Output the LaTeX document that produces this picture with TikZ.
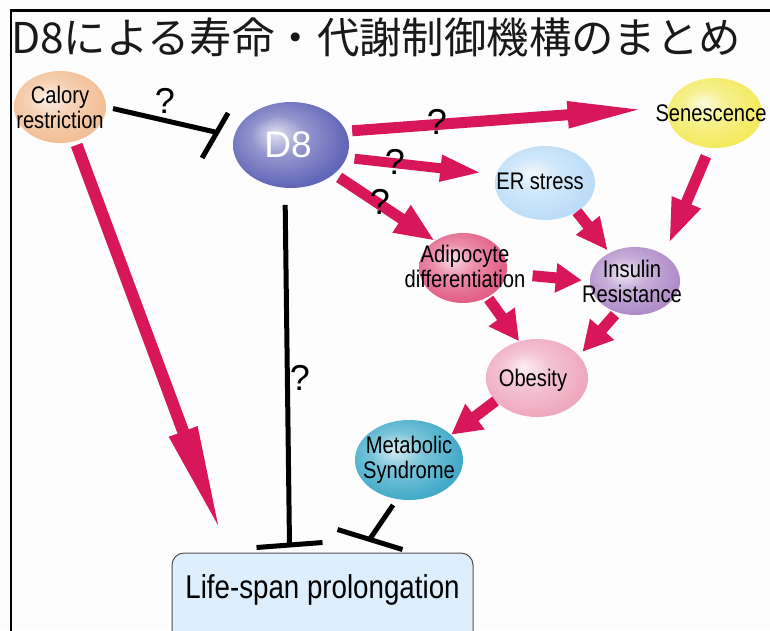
\documentclass[tikz,border=0pt]{standalone}
\usepackage{fontspec}
\setmainfont{Liberation Sans}
\newfontfamily\nar{Liberation Sans}[FakeStretch=0.84]
\newfontfamily\jp{Noto Sans CJK JP}
\usetikzlibrary{arrows.meta,shapes.geometric,calc}
\definecolor{arrred}{HTML}{D7175A}
\definecolor{bgc}{HTML}{FDFDFD}
\definecolor{calc}{HTML}{F2BF96}
\definecolor{d8c}{HTML}{6367B8}
\definecolor{senc}{HTML}{F3EA5E}
\definecolor{erc}{HTML}{BCDDF7}
\definecolor{adic}{HTML}{E25F88}
\definecolor{insc}{HTML}{B08CC8}
\definecolor{obec}{HTML}{EFA9BF}
\definecolor{metc}{HTML}{43ABC9}
\definecolor{lifefill}{HTML}{DDEEFC}
\definecolor{lifeline}{HTML}{505050}
\colorlet{hlc}{white}
\pgfdeclareradialshading[hlc]{softball}{\pgfpoint{-7bp}{7bp}}{color(0bp)=(hlc!20!white); color(12bp)=(hlc!70!white); color(27bp)=(hlc); color(50bp)=(hlc)}
\begin{document}
\begin{tikzpicture}[x=1pt,y=-1pt,
  bub/.style={ellipse, inner sep=0pt, shading=softball, /utils/exec={\colorlet{hlc}{#1}}},
  txt/.style={inner sep=0pt, align=center, font=\nar\fontsize{24}{25}\selectfont, text=black},
  qm/.style={inner sep=0pt, font=\fontsize{36}{36}\selectfont, text=black},
  ra/.style={draw=arrred, fill=arrred},
  inh/.style={draw=black, line width=5pt}]
\useasboundingbox (0,0) rectangle (770,630);
\fill[bgc] (0,0) rectangle (770,630);
\clip (0,0) rectangle (770,630);
\draw[line width=2.5pt, black] (11,640) -- (11,10.5) -- (780,10.5);

\node[anchor=base west, inner sep=0pt, font=\jp\fontsize{42.4}{42.4}\selectfont, text=black!90] (title) at (11,53) {D8による寿命・代謝制御機構のまとめ};

\node[bub=calc, minimum width=92pt, minimum height=72pt,
  label={[txt]center:Calory\\restriction}] (cal) at (60,107) {};
\node[bub=d8c, minimum width=116pt, minimum height=86pt,
  label={[inner sep=0pt, font=\fontsize{37}{37}\selectfont, text=white, xshift=-3pt]center:D8}] (d8) at (291,145) {};
\node[bub=senc, minimum width=94pt, minimum height=70pt,
  label={[txt, xshift=-4pt]center:Senescence}] (sen) at (715,113) {};
\node[bub=erc, minimum width=100pt, minimum height=74pt,
  label={[txt, xshift=-5pt, yshift=2pt]center:ER stress}] (er) at (545,183) {};
\node[bub=adic, minimum width=88pt, minimum height=70pt,
  label={[txt, xshift=2pt, yshift=2pt]center:Adipocyte\\differentiation}] (adi) at (463,268) {};
\node[bub=insc, minimum width=90pt, minimum height=68pt,
  label={[txt, xshift=-3pt]center:Insulin\\Resistance}] (ins) at (635,281) {};
\node[bub=obec, minimum width=102pt, minimum height=78pt,
  label={[txt, xshift=-4pt, yshift=-2pt]center:Obesity}] (obe) at (537,378) {};
\node[bub=metc, minimum width=108pt, minimum height=80pt,
  label={[txt]center:Metabolic\\Syndrome}] (met) at (409,460) {};

\node[draw=lifeline, line width=1pt, fill=lifefill, rounded corners=12pt,
  minimum width=301pt, text height=45pt, text depth=52pt, inner sep=0pt,
  anchor=base, font=\nar\fontsize{33}{36}\selectfont] (life) at (322.5,598) {Life-span prolongation};

\coordinate (lifeA) at ($(life.north west)+(50,-18)$);
\coordinate (lifeB) at ($(life.north west)+(118,-7)$);
\coordinate (lifeC) at ($(life.north west)+(198,-13)$);
\coordinate (calbar) at ($(d8.171)+(-19,-4)$);

% activating arrows
\draw[ra, line width=12pt, -{Triangle[length=110pt,width=27pt]}, shorten <=4pt] (cal.-66) -- (lifeA);
\draw[ra, line width=11pt, -{Triangle[length=78pt,width=24pt]}, shorten <=6pt, shorten >=23pt] (d8.14) -- (sen.173);
\draw[ra, line width=10pt, -{Triangle[length=42pt,width=24pt]}, shorten <=8pt, shorten >=14pt] (d8.-13) -- (er.170);
\draw[ra, line width=11pt, -{Triangle[length=40pt,width=30pt]}, shorten <=6pt] (d8.-34) -- (adi.136);
\draw[ra, line width=11pt, -{Triangle[length=32pt,width=28pt]}, shorten >=3pt] (er.-42) -- (ins.132);
\draw[ra, line width=11pt, -{Triangle[length=45pt,width=28pt]}, shorten <=9pt, shorten >=12pt] (sen.-99) -- (ins.42);
\draw[ra, line width=11pt, -{Triangle[length=26pt,width=28pt]}, shorten <=26pt, shorten >=8pt] (adi.-7) -- (ins.180);
\draw[ra, line width=11pt, -{Triangle[length=30pt,width=30pt]}, shorten <=2pt] (adi.-50) -- (obe.116);
\draw[ra, line width=11pt, -{Triangle[length=30pt,width=30pt]}, shorten <=3pt, shorten >=5pt] (ins.-120) -- (obe.28);
\draw[ra, line width=11pt, -{Triangle[length=30pt,width=30pt]}] (obe.-151) -- (met.31);

% inhibitions
\draw[inh, shorten <=7pt] (cal.east) -- (calbar);
\draw[inh] ($(calbar)+(13,-19)$) -- ($(calbar)+(-13,26)$);
\draw[inh, shorten <=17pt] (d8.-98) -- (lifeB);
\draw[inh] ($(lifeB)+(-33,2)$) -- ($(lifeB)+(33,-3)$);
\draw[inh, shorten <=7pt] (met.-107) -- (lifeC);
\draw[inh] ($(lifeC)+(-32,-10)$) -- ($(lifeC)+(33,10)$);

% question marks
\node[qm] (q1) at (165,101) {?};
\node[qm] (q2) at (437,122) {?};
\node[qm] (q3) at (395,162) {?};
\node[qm] (q4) at (380,202) {?};
\node[qm] (q5) at (300,378) {?};
\end{tikzpicture}
\end{document}
